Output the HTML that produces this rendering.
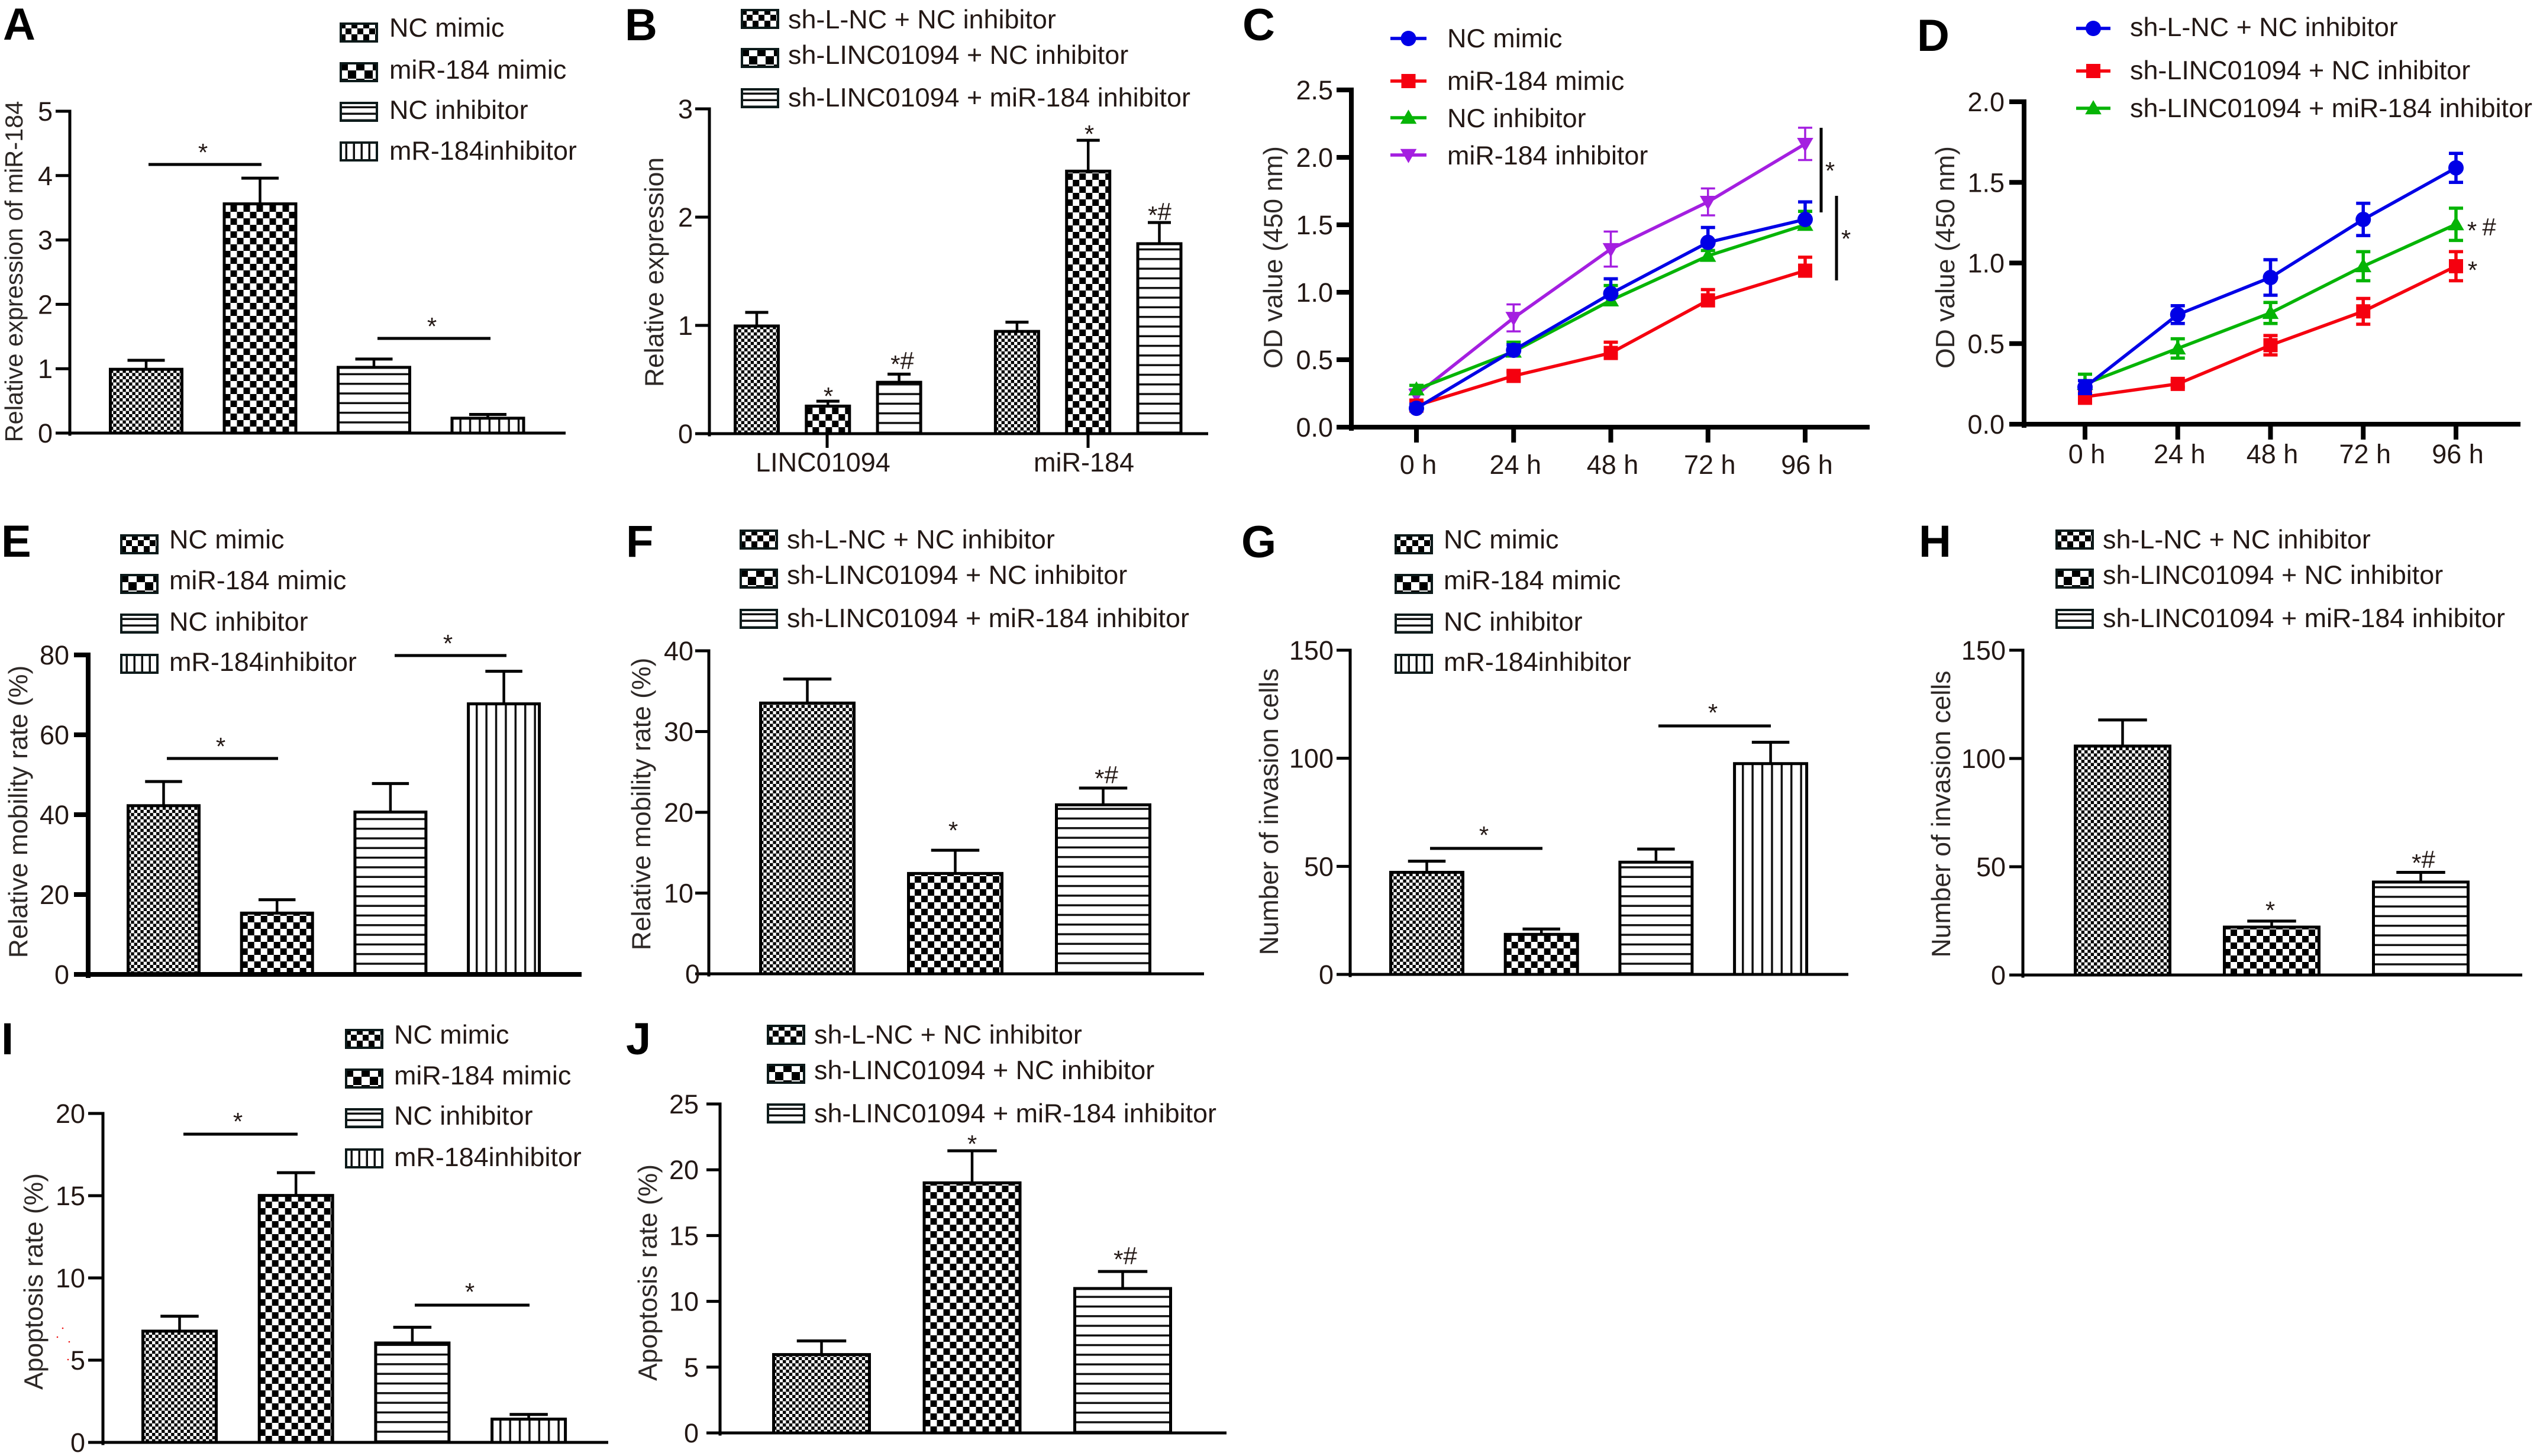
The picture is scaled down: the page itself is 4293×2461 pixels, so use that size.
<!DOCTYPE html>
<html lang="en">
<head>
<meta charset="utf-8">
<title>miR-184 and LINC01094 multi-panel figure</title>
<style>
html,body{margin:0;padding:0;background:#fff;}
svg{display:block;}
text{font-family:"Liberation Sans",Arial,sans-serif;fill:#231815;}
</style>
</head>
<body>
<svg id="figure" xmlns="http://www.w3.org/2000/svg" width="4293" height="2461" viewBox="0 0 4293 2461">
<defs id="defs"></defs>
<rect width="4293" height="2461" fill="#ffffff"></rect>
</svg>
<script>
// ---- shared categories ----
const mimicGroups = ['NC mimic', 'miR-184 mimic', 'NC inhibitor', 'mR-184inhibitor'];
const shGroups = ['sh-L-NC + NC inhibitor', 'sh-LINC01094 + NC inhibitor', 'sh-LINC01094 + miR-184 inhibitor'];
const lineGroupsC = ['NC mimic', 'miR-184 mimic', 'NC inhibitor', 'miR-184 inhibitor'];
const timeLabels = ['0 h', '24 h', '48 h', '72 h', '96 h'];
const geneLabels = ['LINC01094', 'miR-184'];

// ---- panel A ----
const aValues = [1.0, 3.57, 1.03, 0.24];
const aErrors = [0.13, 0.39, 0.12, 0.05];
const aTicks = [0, 1, 2, 3, 4, 5];
// ---- panel B ----
const bValues = [1.0, 0.26, 0.48, 0.95, 2.43, 1.76];
const bErrors = [0.12, 0.04, 0.07, 0.08, 0.28, 0.19];
const bTicks = [0, 1, 2, 3];
// ---- panel C ----
const cNcMimic = [0.14, 0.57, 0.99, 1.37, 1.54];
const cMimic = [0.16, 0.38, 0.55, 0.94, 1.16];
const cNcInhibitor = [0.28, 0.56, 0.94, 1.27, 1.50];
const cInhibitor = [0.24, 0.81, 1.32, 1.67, 2.10];
const cNcMimicErr = [0.03, 0.04, 0.11, 0.11, 0.13];
const cMimicErr = [0.04, 0.03, 0.08, 0.08, 0.10];
const cNcInhibitorErr = [0.03, 0.07, 0.11, 0.04, 0.10];
const cInhibitorErr = [0.04, 0.10, 0.13, 0.10, 0.12];
const cTicks = ['0.0', '0.5', '1.0', '1.5', '2.0', '2.5'];
// ---- panel D ----
const dControl = [0.23, 0.68, 0.91, 1.27, 1.59];
const dKnockdown = [0.17, 0.25, 0.49, 0.70, 0.98];
const dRescue = [0.25, 0.47, 0.69, 0.98, 1.24];
const dControlErr = [0.04, 0.055, 0.11, 0.10, 0.09];
const dKnockdownErr = [0.04, 0.02, 0.06, 0.08, 0.09];
const dRescueErr = [0.06, 0.06, 0.065, 0.09, 0.10];
const dTicks = ['0.0', '0.5', '1.0', '1.5', '2.0'];
// ---- panel E ----
const eValues = [42.4, 15.5, 40.8, 67.9];
const eErrors = [5.9, 3.2, 7.0, 8.0];
const eTicks = [0, 20, 40, 60, 80];
// ---- panel F ----
const fValues = [33.6, 12.5, 21];
const fErrors = [2.9, 2.8, 2.0];
const fTicks = [0, 10, 20, 30, 40];
// ---- panel G ----
const gValues = [47.5, 18.8, 52.2, 97.8];
const gErrors = [4.9, 2.2, 5.8, 9.6];
const gTicks = [0, 50, 100, 150];
// ---- panel H ----
const hValues = [106, 22.4, 43.2];
const hErrors = [11.8, 2.5, 4.2];
const hTicks = [0, 50, 100, 150];
// ---- panel I ----
const iValues = [6.8, 15.05, 6.08, 1.45];
const iErrors = [0.87, 1.35, 0.92, 0.25];
const iTicks = [0, 5, 10, 15, 20];
// ---- panel J ----
const jValues = [6.0, 19.05, 11.02];
const jErrors = [0.99, 2.39, 1.25];
const jTicks = [0, 5, 10, 15, 20, 25];

const svg = document.getElementById('figure');
const defs = document.getElementById('defs');
const NS = 'http://www.w3.org/2000/svg';
let patternCount = 0;

function mk(tag, attrs, parent) {
  const node = document.createElementNS(NS, tag);
  for (const k in attrs) node.setAttribute(k, attrs[k]);
  (parent || svg).appendChild(node);
  return node;
}

function makePattern(kind, x, y, size) {
  patternCount += 1;
  const id = 'pat' + patternCount;
  const isChecker = kind === 'fine' || kind === 'coarse';
  const w = isChecker ? size * 2 : size;
  const p = mk('pattern', {id: id, patternUnits: 'userSpaceOnUse', x: x, y: y, width: kind === 'h' ? 20 : w, height: kind === 'v' ? 20 : w}, defs);
  mk('rect', {x: 0, y: 0, width: kind === 'h' ? 20 : w, height: kind === 'v' ? 20 : w, fill: '#fff'}, p);
  if (isChecker) {
    mk('rect', {x: 0, y: 0, width: size, height: size, fill: '#000'}, p);
    mk('rect', {x: size, y: size, width: size, height: size, fill: '#000'}, p);
  } else if (kind === 'h') {
    mk('rect', {x: 0, y: size - 3.5, width: 20, height: 3.5, fill: '#111'}, p);
  } else {
    mk('rect', {x: size - 3.5, y: 0, width: 3.5, height: 20, fill: '#111'}, p);
  }
  return 'url(#' + id + ')';
}

const barSizes = {fine: 5.35, coarse: 11, h: 16.3, v: 16.4};
const swatchSizes = {fine: 10, coarse: 14, h: 11, v: 13};

function drawLetter(g, letter, x, y) {
  const t = mk('text', {x: x, y: y, 'font-size': 76, 'font-weight': 'bold', style: 'fill:#000'}, g);
  
  
  t.textContent = letter;
}

function drawAxes(g, c, tickVals, tickStrs, yFor) {
  const yLine = mk('line', {x1: c.axisX, x2: c.axisX, y1: c.yTop - c.axisW / 2, y2: c.y0 + c.axisW / 2 + 2, stroke: '#000', 'stroke-width': c.axisW}, g);
  
  
  const xLine = mk('line', {x1: c.axisX - c.tickLen, x2: c.axisEnd, y1: c.y0, y2: c.y0, stroke: '#000', 'stroke-width': c.axisW}, g);
  
  
  tickVals.forEach(function (v, i) {
    const y = yFor(v);
    const tick = mk('line', {x1: c.axisX - c.tickLen, x2: c.axisX, y1: y, y2: y, stroke: '#000', 'stroke-width': c.axisW}, g);
    
    
    const dx = (c.zeroDx && v === 0) ? c.zeroDx : 0;
    const lab = mk('text', {x: c.tickRight + dx, y: y + 16, 'font-size': 45, 'text-anchor': 'end'}, g);
    
    
    lab.textContent = tickStrs[i];
  });
  const tx = mk('text', {'font-size': c.titleSize || 44.5, 'text-anchor': 'middle', transform: 'translate(' + c.titleX + ',' + c.titleY + ') rotate(-90)', style: 'fill:#2d2826'}, g);
  
  
  tx.textContent = c.title;
}

function drawAnnotations(g, c) {
  (c.brackets || []).forEach(function (b) {
    const l = mk('line', {x1: b[0], y1: b[1], x2: b[2], y2: b[3], stroke: '#000', 'stroke-width': 5}, g);
    
    
  });
  (c.marks || []).forEach(function (m) {
    const combo = m[2].length > 1;
    const t = mk('text', {x: m[0], y: m[1] + (combo ? 12 : 18), 'font-size': 42, 'text-anchor': 'middle'}, g);
    
    
    if (combo) {
      const s1 = mk('tspan', {dy: 6}, t);
      s1.textContent = '*';
      const s2 = mk('tspan', {dy: -6}, t);
      s2.textContent = '#';
    } else {
      t.textContent = m[2];
    }
  });
}

function drawBarPanel(c) {
  const g = mk('g', {});
  
  
  drawLetter(g, c.letter, c.letterX, c.letterY);
  const yFor = function (v) { return c.y0 - (v / c.yMax) * (c.y0 - c.yTop); };
  const xFor = function (i) { return c.barStart + i * c.barStep + (c.groupSize && i >= c.groupSize ? c.groupGap : 0); };
  c.values.forEach(function (v, i) {
    const left = xFor(i);
    const kind = c.kinds[i % c.kinds.length];
    const mid = left + c.barW / 2;
    const top = yFor(v);
    const errTop = yFor(v + c.errors[i]);
    const stem = mk('line', {x1: mid, x2: mid, y1: top, y2: errTop, stroke: '#000', 'stroke-width': 4.5}, g);
    
    
    const cap = mk('line', {x1: mid - c.barW / 4, x2: mid + c.barW / 4, y1: errTop, y2: errTop, stroke: '#000', 'stroke-width': 5}, g);
    
    
    const fill = makePattern(kind, left + 2, c.y0, barSizes[kind]);
    const bar = mk('rect', {x: left + 2.5, y: top + 1, width: c.barW - 5, height: Math.max(0, c.y0 - top - 1), fill: fill, stroke: '#000', 'stroke-width': 5}, g);
    
    
  });
  drawAxes(g, c, c.ticks, c.ticks.map(String), yFor);
  if (c.xLabels) {
    c.xLabels.forEach(function (lab, i) {
      const xt = c.xTickAt[i];
      const tick = mk('line', {x1: xt, x2: xt, y1: c.y0, y2: c.y0 + 24, stroke: '#000', 'stroke-width': c.axisW}, g);
      
      
      const t = mk('text', {x: xt - 7, y: c.y0 + 64, 'font-size': 45, 'text-anchor': 'middle'}, g);
      
      
      t.textContent = lab;
    });
  }
  drawAnnotations(g, c);
  c.legend.forEach(function (lab, i) {
    const kind = c.kinds[i % c.kinds.length];
    const y = c.swatchY[i];
    const fill = makePattern(kind, c.swatchX, y, swatchSizes[kind]);
    const sw = mk('rect', {x: c.swatchX + 2, y: y + 2, width: 61, height: 30, fill: fill, stroke: '#0c1a1a', 'stroke-width': 4}, g);
    
    
    const t = mk('text', {x: c.legendX, y: c.legendBase[i], 'font-size': 44.9}, g);
    
    
    t.textContent = lab;
  });
}

function drawMarker(g, shape, x, y, color, size) {
  const r = size;
  let node;
  if (shape === 'circle') {
    node = mk('circle', {cx: x, cy: y, r: r, fill: color}, g);
  } else if (shape === 'square') {
    node = mk('rect', {x: x - r, y: y - r, width: 2 * r, height: 2 * r, fill: color}, g);
  } else if (shape === 'up') {
    node = mk('polygon', {points: [x, y - r * 1.15, x + r * 1.15, y + r * 0.85, x - r * 1.15, y + r * 0.85].join(' '), fill: color}, g);
  } else {
    node = mk('polygon', {points: [x, y + r * 1.15, x + r * 1.15, y - r * 0.85, x - r * 1.15, y - r * 0.85].join(' '), fill: color}, g);
  }
  
  
}

function drawLinePanel(c) {
  const g = mk('g', {});
  
  
  drawLetter(g, c.letter, c.letterX, c.letterY);
  const yFor = function (v) { return c.y0 - (v / c.yMax) * (c.y0 - c.yTop); };
  const xFor = function (i) { return c.xStart + i * c.xStep; };
  drawAxes(g, c, c.ticks.map(Number), c.ticks, yFor);
  timeLabels.forEach(function (lab, i) {
    const xt = xFor(i);
    const tick = mk('line', {x1: xt, x2: xt, y1: c.y0, y2: c.y0 + 26, stroke: '#000', 'stroke-width': c.axisW}, g);
    
    
    const t = mk('text', {x: xt + 3, y: c.labelBase, 'font-size': 45, 'text-anchor': 'middle'}, g);
    
    
    t.textContent = lab;
  });
  c.order.forEach(function (s) {
    const sg = mk('g', {}, g);
    
    
    const sw = s.thin ? 3.5 : 5.5;
    s.values.forEach(function (v, i) {
      const x = xFor(i);
      const up = yFor(v + s.errors[i]);
      const down = s.both ? yFor(v - s.errors[i]) : yFor(v);
      const stem = mk('line', {x1: x, x2: x, y1: up, y2: down, stroke: s.color, 'stroke-width': sw}, sg);
      
      
      const capU = mk('line', {x1: x - 12, x2: x + 12, y1: up, y2: up, stroke: s.color, 'stroke-width': sw}, sg);
      
      
      if (s.both) {
        const capD = mk('line', {x1: x - 12, x2: x + 12, y1: down, y2: down, stroke: s.color, 'stroke-width': sw}, sg);
        
        
      }
    });
    const pts = s.values.map(function (v, i) { return xFor(i) + ',' + yFor(v); }).join(' ');
    const line = mk('polyline', {points: pts, fill: 'none', stroke: s.color, 'stroke-width': 5.5, 'stroke-linejoin': 'round'}, sg);
    
    
    s.values.forEach(function (v, i) {
      drawMarker(sg, s.shape, xFor(i), yFor(v), s.color, s.size);
    });
  });
  drawAnnotations(g, c);
  c.legend.forEach(function (s, i) {
    const y = c.legendLineY[i];
    const l = mk('line', {x1: c.legendLine[0], x2: c.legendLine[1], y1: y, y2: y, stroke: s.color, 'stroke-width': 5.5}, g);
    
    
    drawMarker(g, s.shape, (c.legendLine[0] + c.legendLine[1]) / 2, y, s.color, s.size);
    const t = mk('text', {x: c.legendX, y: c.legendBase[i], 'font-size': 44.9}, g);
    
    
    t.textContent = s.label;
  });
}

const fourKinds = ['fine', 'coarse', 'h', 'v'];
const threeKinds = ['fine', 'coarse', 'h'];

drawBarPanel({letter: 'A', letterX: 5, letterY: 67, axisX: 118, y0: 732, yTop: 188, yMax: 5, axisEnd: 956, axisW: 5, tickLen: 24, tickRight: 89,
  ticks: aTicks, values: aValues, errors: aErrors, kinds: fourKinds, barStart: 184, barW: 126, barStep: 192.5,
  title: 'Relative expression of miR-184', titleSize: 41.5, titleX: 38, titleY: 459,
  legend: mimicGroups, swatchX: 574, swatchY: [38, 105, 172, 239], legendX: 658, legendBase: [62, 133, 201, 270],
  brackets: [[251, 278, 442, 278], [638, 572, 829, 572]], marks: [[343, 254, '*'], [730, 548, '*']]});

drawBarPanel({letter: 'B', letterX: 1056, letterY: 68, axisX: 1199, y0: 733, yTop: 184, yMax: 3, axisEnd: 2042, axisW: 5, tickLen: 24, tickRight: 1171,
  ticks: bTicks, values: bValues, errors: bErrors, kinds: threeKinds, barStart: 1240, barW: 78, barStep: 120.3, groupSize: 3, groupGap: 79,
  title: 'Relative expression', titleX: 1121, titleY: 460,
  xLabels: geneLabels, xTickAt: [1398, 1839],
  legend: shGroups, swatchX: 1252, swatchY: [15, 81, 149], legendX: 1332, legendBase: [48, 108, 180],
  marks: [[1400, 666, '*'], [1525, 612, '*#'], [1841, 223, '*'], [1960, 360, '*#']]});

const cSeries = [
  {name: 'nc-mimic', label: lineGroupsC[0], values: cNcMimic, errors: cNcMimicErr, color: '#0000e6', shape: 'circle', size: 13},
  {name: 'mir-184-mimic', label: lineGroupsC[1], values: cMimic, errors: cMimicErr, color: '#f5000f', shape: 'square', size: 12},
  {name: 'nc-inhibitor', label: lineGroupsC[2], values: cNcInhibitor, errors: cNcInhibitorErr, color: '#06b406', shape: 'up', size: 12},
  {name: 'mir-184-inhibitor', label: lineGroupsC[3], values: cInhibitor, errors: cInhibitorErr, color: '#a41fe0', shape: 'down', size: 12, both: true, thin: true}
];
drawLinePanel({letter: 'C', letterX: 2100, letterY: 68, axisX: 2284, y0: 722, yTop: 152, yMax: 2.5, axisEnd: 3160, axisW: 8, tickLen: 25, tickRight: 2253,
  ticks: cTicks, xStart: 2394, xStep: 164.25, labelBase: 801,
  title: 'OD value (450 nm)', titleX: 2167, titleY: 435,
  order: [cSeries[3], cSeries[1], cSeries[2], cSeries[0]], legend: cSeries,
  legendLine: [2350, 2411], legendLineY: [65, 137, 199, 262], legendX: 2446, legendBase: [80, 152, 215, 278],
  brackets: [[3078, 216, 3078, 359], [3104, 331, 3104, 474]], marks: [[3093, 285, '*'], [3120, 400, '*']]});

const dSeries = [
  {name: 'sh-l-nc-nc-inhibitor', label: shGroups[0], values: dControl, errors: dControlErr, color: '#0000e6', shape: 'circle', size: 13, both: true},
  {name: 'sh-linc01094-nc-inhibitor', label: shGroups[1], values: dKnockdown, errors: dKnockdownErr, color: '#f5000f', shape: 'square', size: 12, both: true},
  {name: 'sh-linc01094-mir-184-inhibitor', label: shGroups[2], values: dRescue, errors: dRescueErr, color: '#06b406', shape: 'up', size: 12, both: true}
];
drawLinePanel({letter: 'D', letterX: 3240, letterY: 86, axisX: 3421, y0: 717, yTop: 172, yMax: 2, axisEnd: 4260, axisW: 8, tickLen: 25, tickRight: 3388,
  ticks: dTicks, xStart: 3524, xStep: 156.75, labelBase: 783,
  title: 'OD value (450 nm)', titleX: 3303, titleY: 435,
  order: [dSeries[2], dSeries[1], dSeries[0]], legend: dSeries,
  legendLine: [3509, 3567], legendLineY: [48, 120, 183], legendX: 3600, legendBase: [61, 134, 198],
  marks: [[4178, 386, '*'], [4207, 380, '#'], [4179, 453, '*']]});

drawBarPanel({letter: 'E', letterX: 2, letterY: 941, axisX: 149, y0: 1647, yTop: 1107, yMax: 80, axisEnd: 983, axisW: 8, tickLen: 24, tickRight: 117,
  ticks: eTicks, values: eValues, errors: eErrors, kinds: fourKinds, barStart: 214, barW: 125, barStep: 191.7,
  title: 'Relative mobility rate (%)', titleX: 46, titleY: 1372,
  legend: mimicGroups, swatchX: 203, swatchY: [903, 970, 1037, 1105], legendX: 286, legendBase: [927, 996, 1066, 1134],
  brackets: [[282, 1282, 470, 1282], [667, 1108, 856, 1108]], marks: [[373, 1258, '*'], [757, 1084, '*']]});

drawBarPanel({letter: 'F', letterX: 1058, letterY: 941, axisX: 1198, y0: 1646, yTop: 1100, yMax: 40, axisEnd: 2035, axisW: 5, tickLen: 23, tickRight: 1172, zeroDx: 11,
  ticks: fTicks, values: fValues, errors: fErrors, kinds: threeKinds, barStart: 1283, barW: 163, barStep: 250,
  title: 'Relative mobility rate (%)', titleX: 1099, titleY: 1359,
  legend: shGroups, swatchX: 1250, swatchY: [895, 961, 1029], legendX: 1330, legendBase: [927, 987, 1060],
  marks: [[1611, 1400, '*'], [1870, 1312, '*#']]});

drawBarPanel({letter: 'G', letterX: 2098, letterY: 942, axisX: 2282, y0: 1647, yTop: 1099, yMax: 150, axisEnd: 3124, axisW: 5, tickLen: 23, tickRight: 2254,
  ticks: gTicks, values: gValues, errors: gErrors, kinds: fourKinds, barStart: 2348, barW: 127, barStep: 193.7,
  title: 'Number of invasion cells', titleX: 2160, titleY: 1372,
  legend: mimicGroups, swatchX: 2357, swatchY: [903, 970, 1037, 1105], legendX: 2440, legendBase: [927, 996, 1066, 1134],
  brackets: [[2417, 1434, 2607, 1434], [2803, 1227, 2993, 1227]], marks: [[2508, 1408, '*'], [2895, 1201, '*']]});

drawBarPanel({letter: 'H', letterX: 3243, letterY: 941, axisX: 3419, y0: 1648, yTop: 1099, yMax: 150, axisEnd: 4263, axisW: 5, tickLen: 23, tickRight: 3390,
  ticks: hTicks, values: hValues, errors: hErrors, kinds: threeKinds, barStart: 3505, barW: 165, barStep: 252,
  title: 'Number of invasion cells', titleX: 3296, titleY: 1376,
  legend: shGroups, swatchX: 3474, swatchY: [895, 961, 1029], legendX: 3554, legendBase: [927, 987, 1060],
  marks: [[3837, 1535, '*'], [4096, 1455, '*#']]});

drawBarPanel({letter: 'I', letterX: 2, letterY: 1782, axisX: 174, y0: 2438, yTop: 1882, yMax: 20, axisEnd: 1028, axisW: 5, tickLen: 25, tickRight: 144,
  ticks: iTicks, values: iValues, errors: iErrors, kinds: fourKinds, barStart: 239, barW: 129, barStep: 196.7,
  title: 'Apoptosis rate (%)', titleX: 72, titleY: 2166,
  legend: mimicGroups, swatchX: 583, swatchY: [1739, 1806, 1873, 1941], legendX: 666, legendBase: [1764, 1833, 1901, 1971],
  brackets: [[310, 1917, 503, 1917], [701, 2206, 895, 2206]], marks: [[402, 1892, '*'], [794, 2180, '*']]});

drawBarPanel({letter: 'J', letterX: 1058, letterY: 1782, axisX: 1217, y0: 2422, yTop: 1866, yMax: 25, axisEnd: 2073, axisW: 5, tickLen: 23, tickRight: 1181,
  ticks: jTicks, values: jValues, errors: jErrors, kinds: threeKinds, barStart: 1305, barW: 167, barStep: 254.5,
  title: 'Apoptosis rate (%)', titleX: 1110, titleY: 2151,
  legend: shGroups, swatchX: 1296, swatchY: [1732, 1798, 1865], legendX: 1376, legendBase: [1764, 1824, 1897],
  marks: [[1643, 1930, '*'], [1902, 2125, '*#']]});

// small red specks present in the source image near panel I
[[106, 2245], [97, 2260], [117, 2268], [115, 2298]].forEach(function (p) {
  const dot = mk('circle', {cx: p[0], cy: p[1], r: 1.3, fill: '#f01010'});
  
  
});
</script>
</body>
</html>
